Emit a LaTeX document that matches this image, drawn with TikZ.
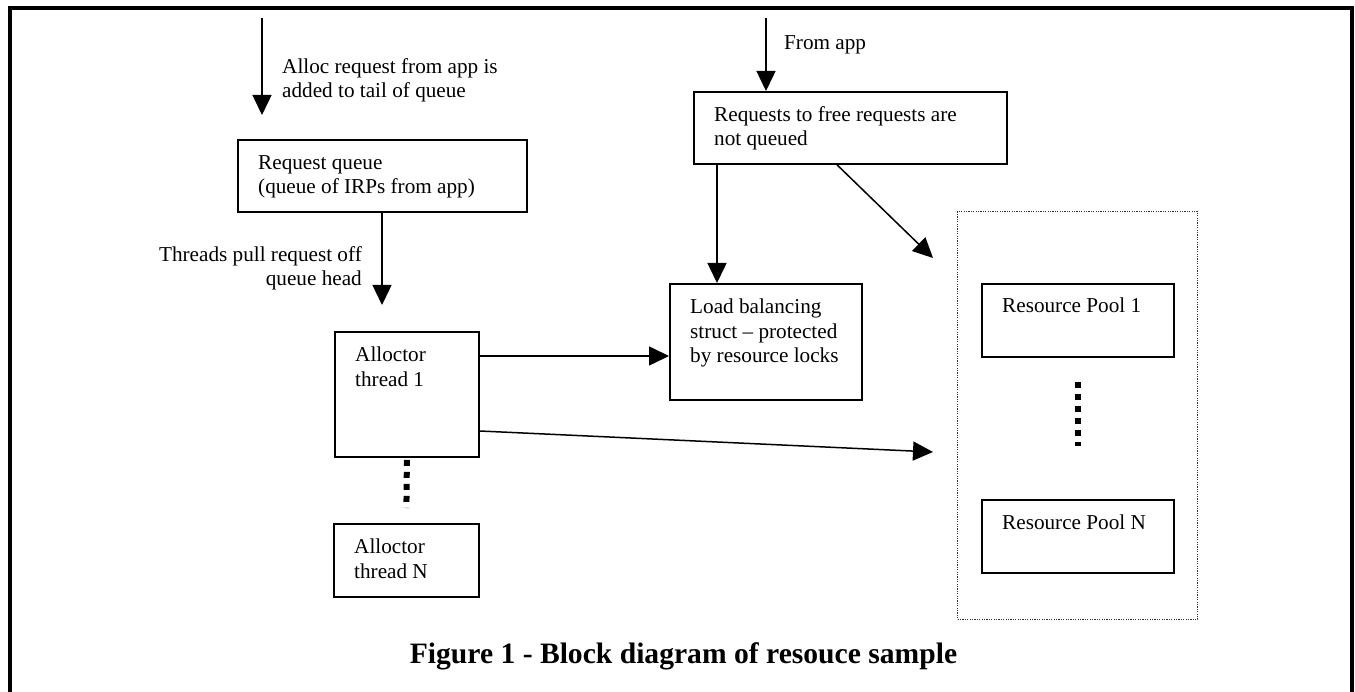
\documentclass[tikz,border=0pt]{standalone}
\usepackage{fontspec}
\setmainfont{Liberation Serif}
\usetikzlibrary{arrows.meta}

\begin{document}
\begin{tikzpicture}[x = 1pt, y = -1pt, > = {Triangle[length = 20pt, width = 19pt]},
	every node/.style = {inner sep = 0pt, font = \fontsize{21.2pt}{24.5pt}\selectfont},
	box/.style = {draw, line width = 1.8pt, anchor = north west},
	txt/.style = {anchor = north west, align = left},
	flow/.style = {->, line width = 1.5pt},
	dots/.style = {line width = 6pt, dash pattern = on 6pt off 6pt}]

	% Page size and frame
	
	\useasboundingbox (0, 0) rectangle (1355, 692);
	\draw [line width = 4.5pt] (10, 692) -- (10, 8) -- (1352, 8) -- (1352, 692);
	
	% Boxes
	
	\node [box, minimum width = 289pt, minimum height = 72pt] (rq) at (237, 139) {};
	\node [box, minimum width = 144pt, minimum height = 125pt] (t1) at (334, 331) {};
	\node [box, minimum width = 145pt, minimum height = 73pt] (tN) at (333, 523) {};
	\node [box, minimum width = 313pt, minimum height = 72pt] (free) at (693, 91) {};
	\node [box, minimum width = 192pt, minimum height = 116pt] (load) at (669, 283) {};
	\node [box, minimum width = 192pt, minimum height = 73pt] (p1) at (981, 283) {};
	\node [box, minimum width = 192pt, minimum height = 73pt] (pN) at (981, 499) {};
	
	\node [draw = black!80, line width = 1.2pt, dash pattern = on 1.2pt off 1.2pt, anchor = north west,
		minimum width = 240pt, minimum height = 408pt] (pools) at (957, 211) {};
	
	% Box texts
	
	\node [txt] (rq text) at (258, 155) {Request queue\\(queue of IRPs from app)};
	\node [txt] (t1 text) at (355, 347) {Alloctor\\thread 1};
	\node [txt] (tN text) at (354, 539) {Alloctor\\thread N};
	\node [txt] (free text) at (714, 106) {Requests to free requests are\\not queued};
	\node [txt] (load text) at (690, 299) {Load balancing\\struct – protected\\by resource locks};
	\node [txt] (p1 text) at (1002, 298) {Resource Pool 1};
	\node [txt] (pN text) at (1002, 515) {Resource Pool N};
	
	% Incoming requests
	
	\coordinate (alloc) at (262, 18);
	\coordinate (app) at (766, 18);
	
	\draw [flow] (alloc) -- ([yshift = 24pt] rq.north west -| alloc);
	\node [txt] (alloc text) at (282, 58) {Alloc request from app is\\added to tail of queue};
	
	\draw [flow] (app) -- (app |- free.north);
	\node [txt] (app text) at (784, 35) {From app};
	
	% Connectors
	
	\coordinate (pull) at (382, 305);
	\draw [flow] (rq.south -| pull) -- (pull);
	\node [anchor = north east, align = right] (pull text) at (362, 246) {Threads pull request off\\queue head};
	
	\draw [flow] ([xshift = 24pt] free.south west) -- ([xshift = 48pt] load.north west);
	\draw [flow] ([xshift = 144pt] free.south west) -- ([xshift = -24pt, yshift = -47pt] pools.north west);
	
	\draw [flow] ([yshift = -25pt] t1.north east) -- ([yshift = -25pt] t1.north east -| load.west);
	\draw [flow] ([yshift = -100pt] t1.north east) -- ([xshift = -24pt, yshift = -241pt] pools.north west);
	
	% Dots for the repeated boxes
	
	\draw [dots] ([yshift = -2pt] t1.south) -- ([yshift = 15pt] tN.north);
	\draw [dots] ([yshift = -24pt] p1.south) -- ([yshift = 53pt] pN.north);
	
	% Caption
	
	\node [anchor = base, font = \bfseries\fontsize{29.6pt}{35pt}\selectfont] (caption) at (683.5, 663)
		{Figure 1 - Block diagram of resouce sample};
		
\end{tikzpicture}
\end{document}
